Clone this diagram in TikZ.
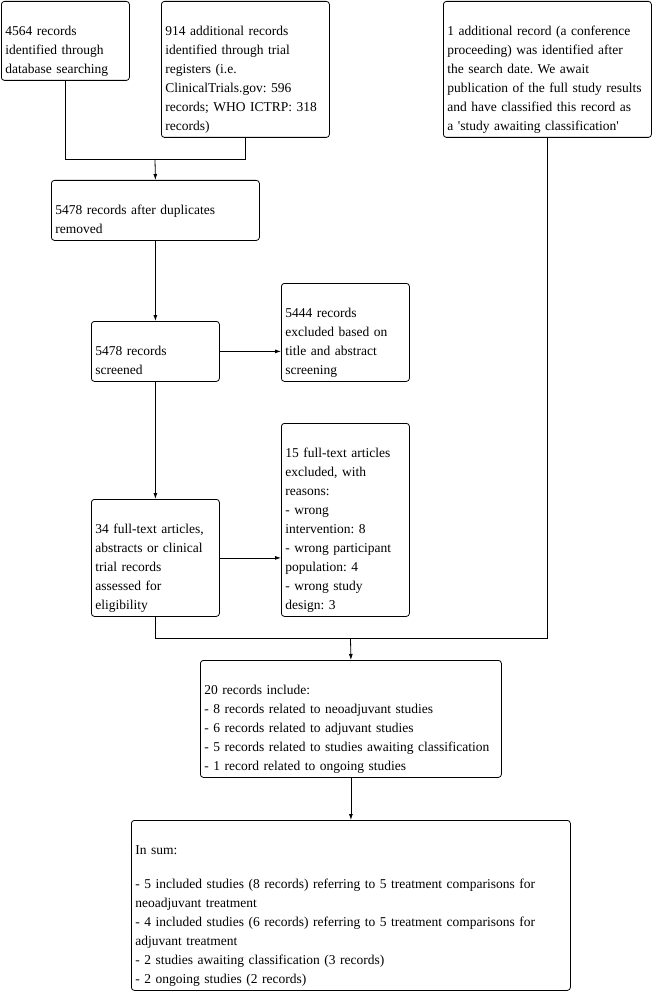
\documentclass[tikz,border=0pt]{standalone}
\usepackage{fontspec}
\setmainfont{Liberation Serif}[Ligatures=TeXOff]
\usetikzlibrary{arrows.meta}
\frenchspacing
\begin{document}
\begin{tikzpicture}[x=1pt,y=-1pt,
  box/.style={draw, rounded corners=3pt, line width=0.8pt, anchor=north west, align=left,
    inner xsep=4pt, inner ysep=3pt, text height=31pt, font=\fontsize{13.5}{19}\selectfont,
    execute at begin node={\hyphenpenalty=10000\frenchspacing},
    execute at end node={\rule[-4pt]{0pt}{1pt}}},
  >={Latex[length=6pt,width=4pt]}]
\path[use as bounding box] (0,0) rectangle (652,992);

\node[box, text width=120pt] (id1) at (1,1) {4564 records\\identified through\\database searching};
\node[box, text width=160pt] (id2) at (161,1) {914 additional records\\identified through trial\\registers (i.e.\\ClinicalTrials.gov: 596\\records; WHO ICTRP: 318\\records)};
\node[box, text width=200pt] (late) at (443,1) {1 additional record (a conference\\proceeding) was identified after\\the search date. We await\\publication of the full study results\\and have classified this record as\\a 'study awaiting classification'};

\node[box, text width=200pt] (dup) at (51,180) {5478 records after duplicates\\removed};
\node[box, text width=120pt] (scr) at (91,321) {5478 records\\screened};
\node[box, text width=120pt] (excl) at (281,283) {5444 records\\excluded based on\\title and abstract\\screening};
\node[box, text width=120pt] (full) at (91,499) {34 full-text articles,\\abstracts or clinical\\trial records\\assessed for\\eligibility};
\node[box, text width=120pt] (fullex) at (281,423) {15 full-text articles\\excluded, with\\reasons:\\- wrong\\intervention: 8\\- wrong participant\\population: 4\\- wrong study\\design: 3};

\node[box, text width=293pt] (incl) at (200,660) {20 records include:\\- 8 records related to neoadjuvant studies\\- 6 records related to adjuvant studies\\- 5 records related to studies awaiting classification\\- 1 record related to ongoing studies};
\node[box, text width=431pt] (sum) at (131,820) {In sum:\\[15pt]- 5 included studies (8 records) referring to 5 treatment comparisons for\\neoadjuvant treatment\\- 4 included studies (6 records) referring to 5 treatment comparisons for\\adjuvant treatment\\- 2 studies awaiting classification (3 records)\\- 2 ongoing studies (2 records)};

\coordinate (j1) at (155,159);
\coordinate (j2) at (350.5,638);

\path[draw,line width=0.8pt] (id1.south) |- (j1);
\path[draw,line width=0.8pt] (id2.south) |- (j1);
\path[draw,line width=0.8pt,->] (j1) -- (dup.north);
\path[draw,line width=0.8pt,->] (dup.south) -- (scr.north);
\path[draw,line width=0.8pt,->] (scr.east) -- (scr.east -| excl.west);
\path[draw,line width=0.8pt,->] (scr.south) -- (full.north);
\path[draw,line width=0.8pt,->] (full.east) -- (full.east -| fullex.west);
\path[draw,line width=0.8pt] (full.south) |- (j2);
\path[draw,line width=0.8pt] (late.south) |- (j2);
\path[draw,line width=0.8pt,->] (j2) -- (incl.north);
\path[draw,line width=0.8pt,->] (incl.south) -- (sum.north);
\end{tikzpicture}
\end{document}
